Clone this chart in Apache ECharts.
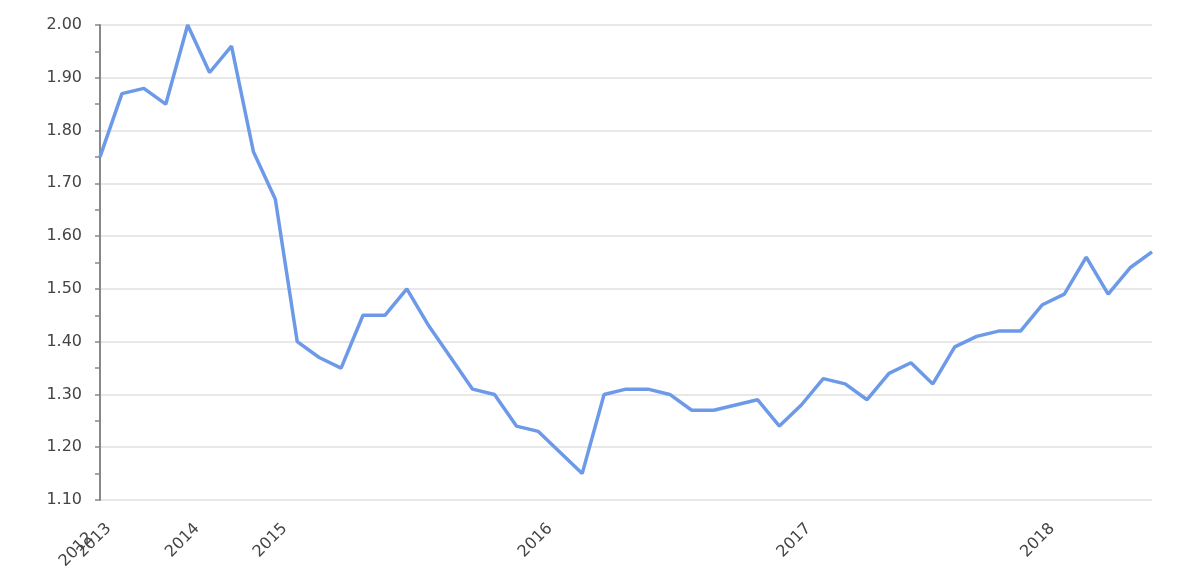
<!DOCTYPE html>
<html>
<head>
<meta charset="utf-8">
<script src="https://cdn.jsdelivr.net/npm/echarts@6/dist/echarts.min.js"></script>
<style>html,body{margin:0;padding:0;background:#fff;}#chart{width:1200px;height:583px;}</style>
</head>
<body>
<div id="chart"></div>
<script>
// Series values, one per observation (evenly spaced along the x axis)
var values = [1.75, 1.87, 1.88, 1.85, 2.00, 1.91, 1.96, 1.76, 1.67, 1.40,
              1.37, 1.35, 1.45, 1.45, 1.50, 1.43, 1.37, 1.31, 1.30, 1.24,
              1.23, 1.19, 1.15, 1.30, 1.31, 1.31, 1.30, 1.27, 1.27, 1.28,
              1.29, 1.24, 1.28, 1.33, 1.32, 1.29, 1.34, 1.36, 1.32, 1.39,
              1.41, 1.42, 1.42, 1.47, 1.49, 1.56, 1.49, 1.54, 1.57];
// Year tick labels and where they fall along the observation index
var yearLabels = ['2012', '2013', '2014', '2015', '2016', '2017', '2018'];
var yearAt = [0, 0.4, 4.43, 8.43, 20.53, 32.33, 43.45];
var yTickLabels = ['1.10','1.20','1.30','1.40','1.50','1.60','1.70','1.80','1.90','2.00'];

var seriesData = values.map(function (v, i) { return [i, v]; });

var font = 'DejaVu Sans';
function yearFormatter(val) {
  for (var k = 0; k < yearAt.length; k++) {
    if (Math.abs(yearAt[k] - val) < 1e-6) return yearLabels[k];
  }
  return '';
}
function makeXAxis(vals, pad) {
  return {
    type: 'value',
    gridIndex: 0,
    position: 'bottom',
    min: 0,
    max: values.length - 1,
    axisLine: {show: false},
    axisTick: {show: false},
    splitLine: {show: false},
    axisLabel: {
      customValues: vals,
      showMinLabel: true,
      showMaxLabel: true,
      hideOverlap: false,
      rotate: 45,
      margin: 26,
      padding: pad,
      color: '#444',
      fontSize: 16,
      fontFamily: font,
      formatter: yearFormatter
    }
  };
}

var chart = echarts.init(document.getElementById('chart'), null, {renderer: 'canvas'});
chart.setOption({
  animation: false,
  backgroundColor: '#ffffff',
  grid: {left: 100, right: 48, top: 25, bottom: 83},
  xAxis: [
    makeXAxis(yearAt.slice(1), 0),
    makeXAxis(yearAt.slice(0, 1), [0, 13, 0, 0])
  ],
  yAxis: {
    type: 'value',
    min: 1.10,
    max: 2.00,
    interval: 0.10,
    axisLine: {show: true, lineStyle: {color: '#888', width: 2}},
    axisTick: {show: true, length: 5, lineStyle: {color: '#888', width: 1.5}},
    minorTick: {show: true, splitNumber: 2, length: 5, lineStyle: {color: '#888', width: 1.5}},
    splitLine: {show: true, lineStyle: {color: '#e0e0e0', width: 1.5}},
    axisLabel: {
      margin: 18,
      color: '#444',
      fontSize: 16,
      fontFamily: font,
      formatter: function (v) {
        var s = v.toFixed(2);
        return yTickLabels.indexOf(s) >= 0 ? s : '';
      }
    }
  },
  series: [{
    type: 'line',
    xAxisIndex: 0,
    data: seriesData,
    showSymbol: false,
    symbol: 'none',
    lineStyle: {color: '#6d9ae8', width: 3.5},
    emphasis: {disabled: true}
  }]
});
</script>
</body>
</html>
